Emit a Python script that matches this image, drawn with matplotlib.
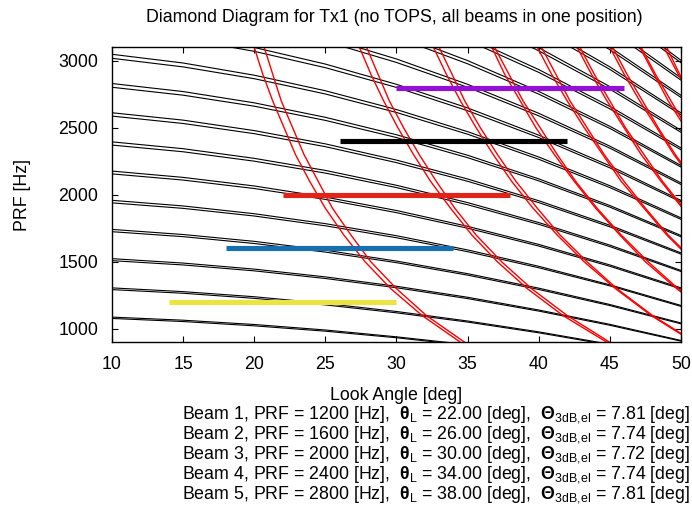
import matplotlib
matplotlib.use('Agg')
import matplotlib.pyplot as plt
import numpy as np

plt.rcParams['font.family'] = ['Liberation Sans', 'DejaVu Sans']
plt.rcParams['mathtext.fontset'] = 'custom'
plt.rcParams['mathtext.rm'] = 'Liberation Sans'
plt.rcParams['mathtext.bf'] = 'Liberation Sans:bold'

# look angle samples [deg] for the black (transmit) curves
look_angles = [10, 15, 20, 25, 30, 35, 40, 45, 50]

# black curve pairs, one row per ambiguity n = 5..23, PRF [Hz]
black_a = [
    [1088, 1065, 1033, 992, 941, 883, 815, 739, 653],
    [1306, 1278, 1240, 1190, 1130, 1059, 978, 886, 783],
    [1524, 1491, 1446, 1388, 1318, 1236, 1141, 1034, 914],
    [1742, 1704, 1653, 1587, 1506, 1412, 1304, 1182, 1044],
    [1959, 1917, 1859, 1785, 1695, 1589, 1467, 1329, 1175],
    [2177, 2130, 2066, 1983, 1883, 1765, 1630, 1477, 1306],
    [2395, 2344, 2272, 2182, 2071, 1942, 1793, 1625, 1436],
    [2612, 2557, 2479, 2380, 2259, 2118, 1956, 1773, 1567],
    [2830, 2770, 2686, 2578, 2448, 2295, 2119, 1920, 1697],
    [3048, 2983, 2892, 2776, 2636, 2471, 2282, 2068, 1828],
    [3265, 3196, 3099, 2975, 2824, 2648, 2445, 2216, 1958],
    [3483, 3409, 3305, 3173, 3013, 2824, 2608, 2363, 2089],
    [3701, 3622, 3512, 3371, 3201, 3001, 2771, 2511, 2219],
    [3918, 3835, 3719, 3570, 3389, 3177, 2934, 2659, 2350],
    [4136, 4048, 3925, 3768, 3577, 3354, 3097, 2807, 2481],
    [4354, 4261, 4132, 3966, 3766, 3530, 3260, 2954, 2611],
    [4571, 4474, 4338, 4165, 3954, 3707, 3423, 3102, 2742],
    [4789, 4687, 4545, 4363, 4142, 3883, 3586, 3250, 2872],
    [5007, 4900, 4751, 4561, 4331, 4060, 3749, 3398, 3003],
]
black_b = [
    [1078, 1055, 1023, 983, 934, 876, 809, 734, 649],
    [1293, 1266, 1228, 1179, 1120, 1051, 971, 880, 779],
    [1509, 1477, 1433, 1376, 1307, 1226, 1133, 1027, 909],
    [1725, 1688, 1637, 1573, 1494, 1401, 1294, 1174, 1038],
    [1940, 1899, 1842, 1769, 1680, 1576, 1456, 1321, 1168],
    [2156, 2110, 2047, 1966, 1867, 1751, 1618, 1467, 1298],
    [2371, 2321, 2251, 2162, 2054, 1926, 1780, 1614, 1428],
    [2587, 2532, 2456, 2359, 2240, 2101, 1942, 1761, 1558],
    [2802, 2743, 2661, 2555, 2427, 2277, 2104, 1908, 1687],
    [3018, 2954, 2866, 2752, 2614, 2452, 2265, 2054, 1817],
    [3234, 3165, 3070, 2948, 2801, 2627, 2427, 2201, 1947],
    [3449, 3376, 3275, 3145, 2987, 2802, 2589, 2348, 2077],
    [3665, 3587, 3480, 3342, 3174, 2977, 2751, 2495, 2207],
    [3880, 3798, 3684, 3538, 3361, 3152, 2913, 2641, 2336],
    [4096, 4009, 3889, 3735, 3547, 3327, 3074, 2788, 2466],
    [4312, 4221, 4094, 3931, 3734, 3502, 3236, 2935, 2596],
    [4527, 4432, 4298, 4128, 3921, 3677, 3398, 3082, 2726],
    [4743, 4643, 4503, 4324, 4108, 3853, 3560, 3228, 2855],
    [4958, 4854, 4708, 4521, 4294, 4028, 3722, 3375, 2985],
]

# PRF samples [Hz] for the red (nadir) curves
nadir_prf = [900, 1100, 1300, 1500, 1700, 1900, 2100, 2300, 2500, 2700, 2900, 3100]

# red curve pairs, look angle [deg], one row per nadir ambiguity m = 1..9
red_a = [
    [34.5, 31.8, 29.6, 27.8, 26.3, 25.0, 23.9, 22.9, 22.1, 21.3, 20.6, 20.0],
    [44.8, 41.7, 39.2, 37.1, 35.3, 33.8, 32.4, 31.2, 30.1, 29.1, 28.2, 27.4],
    [50.9, 47.9, 45.4, 43.2, 41.3, 39.6, 38.1, 36.8, 35.6, 34.5, 33.5, 32.6],
    [54.9, 52.1, 49.7, 47.5, 45.7, 44.0, 42.5, 41.1, 39.8, 38.7, 37.6, 36.7],
    [57.7, 55.2, 52.9, 50.9, 49.0, 47.4, 45.8, 44.5, 43.2, 42.0, 40.9, 39.9],
    [59.8, 57.5, 55.4, 53.5, 51.7, 50.1, 48.6, 47.2, 46.0, 44.8, 43.7, 42.7],
    [61.3, 59.3, 57.3, 55.5, 53.9, 52.3, 50.9, 49.5, 48.3, 47.1, 46.0, 45.0],
    [62.0, 60.7, 58.9, 57.2, 55.6, 54.2, 52.8, 51.5, 50.3, 49.1, 48.1, 47.1],
    [62.0, 61.7, 60.2, 58.6, 57.1, 55.7, 54.4, 53.2, 52.0, 50.9, 49.8, 48.8],
]
red_b = [
    [34.8, 32.1, 30.0, 28.2, 26.8, 25.5, 24.5, 23.5, 22.7, 21.9, 21.3, 20.7],
    [45.0, 42.0, 39.5, 37.4, 35.6, 34.1, 32.8, 31.6, 30.5, 29.5, 28.7, 27.9],
    [51.0, 48.0, 45.5, 43.4, 41.5, 39.9, 38.4, 37.1, 35.9, 34.8, 33.9, 33.0],
    [55.0, 52.2, 49.8, 47.7, 45.8, 44.1, 42.6, 41.3, 40.1, 38.9, 37.9, 36.9],
    [57.8, 55.3, 53.0, 51.0, 49.1, 47.5, 46.0, 44.6, 43.4, 42.2, 41.2, 40.2],
    [59.8, 57.6, 55.5, 53.5, 51.8, 50.2, 48.7, 47.4, 46.1, 45.0, 43.9, 42.9],
    [61.3, 59.3, 57.4, 55.6, 53.9, 52.4, 51.0, 49.6, 48.4, 47.3, 46.2, 45.2],
    [62.0, 60.7, 59.0, 57.3, 55.7, 54.2, 52.9, 51.6, 50.4, 49.3, 48.2, 47.2],
    [62.0, 61.8, 60.2, 58.7, 57.2, 55.8, 54.5, 53.2, 52.1, 51.0, 49.9, 49.0],
]

# beams
beam_no = [1, 2, 3, 4, 5]
beam_prf = [1200, 1600, 2000, 2400, 2800]
beam_theta = [22.0, 26.0, 30.0, 34.0, 38.0]
beam_3db = [7.81, 7.74, 7.72, 7.74, 7.81]
beam_start = [14, 18, 22, 26, 30]
beam_end = [30, 34, 38, 42, 46]
beam_colors = ['#ECE444', '#1470AE', '#E2231A', '#000000', '#9410D2']

FS = 12.8

fig = plt.figure(figsize=(6.92, 5.12), dpi=100)
ax = fig.add_axes([0.1618, 0.3314, 0.8223, 0.5762])

for a, b in zip(black_a, black_b):
    ax.plot(look_angles, a, color='black', lw=0.8)
    ax.plot(look_angles, b, color='black', lw=0.8)
for a, b in zip(red_a, red_b):
    ax.plot(a, nadir_prf, color='#ff0000', lw=1.0)
    ax.plot(b, nadir_prf, color='#ff0000', lw=1.0)

for i in range(5):
    ax.plot([beam_start[i], beam_end[i]], [beam_prf[i], beam_prf[i]],
            color=beam_colors[i], lw=3.7, solid_capstyle='butt')

ax.set_xlim(10, 50)
ax.set_ylim(900, 3100)
ax.set_xticks(range(10, 51, 5))
ax.set_yticks(range(1000, 3001, 500))
ax.tick_params(direction='in', top=True, right=True, length=4, width=0.8,
               labelsize=FS)
ax.tick_params(axis='x', pad=10)
ax.tick_params(axis='y', pad=10)
for s in ax.spines.values():
    s.set_linewidth(1.0)

ax.set_xlabel('Look Angle [deg]', fontsize=FS)
ax.xaxis.set_label_coords(0.5, -0.152)
ax.set_ylabel('PRF [Hz]', fontsize=FS)
ax.yaxis.set_label_coords(-0.143, 0.5)
fig.text(394 / 692, 1 - 17 / 512, 'Diamond Diagram for Tx1 (no TOPS, all beams in one position)',
         ha='center', va='center', fontsize=FS)

for i in range(5):
    txt = ('Beam %d, PRF = %d [Hz],  $\\mathbf{θ}_{\\mathrm{L}}$ = %.2f [deg],  '
           '$\\mathbf{Θ}_{\\mathrm{3dB{,}el}}$ = %.2f [deg]'
           % (beam_no[i], beam_prf[i], beam_theta[i], beam_3db[i]))
    fig.text(690 / 692, 1 - (418.5 + 20 * i) / 512, txt, ha='right', va='baseline', fontsize=FS)

fig.savefig('out.png')
